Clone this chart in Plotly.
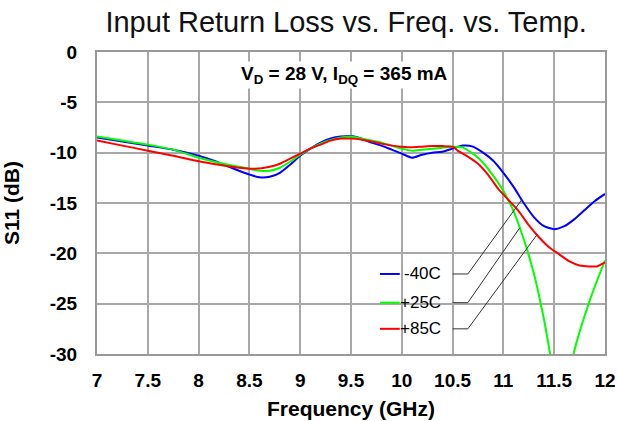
import numpy as np
import plotly.graph_objects as go

# ---- data ----
freq_m40 = [7.0, 7.25, 7.5, 7.75, 8.0, 8.15, 8.3, 8.45, 8.6, 8.7, 8.8, 8.9, 9.0, 9.1, 9.2, 9.3, 9.4, 9.5,
            9.6, 9.7, 9.8, 9.9, 10.0, 10.1, 10.2, 10.3, 10.4, 10.5, 10.6, 10.7, 10.8, 10.9, 11.0, 11.1,
            11.2, 11.3, 11.4, 11.5, 11.6, 11.7, 11.8, 11.9, 12.0]
s11_m40 = [-8.5, -8.9, -9.3, -9.7, -10.3, -10.8, -11.4, -12.0, -12.45, -12.4, -12.0, -11.2, -10.3, -9.6,
           -9.0, -8.6, -8.4, -8.35, -8.6, -9.0, -9.3, -9.7, -10.1, -10.5, -10.2, -10.0, -9.9, -9.6, -9.3,
           -9.4, -10.0, -10.8, -12.0, -13.4, -15.0, -16.4, -17.3, -17.6, -17.3, -16.6, -15.7, -14.8, -14.1]

freq_p25 = [7.0, 7.25, 7.5, 7.75, 8.0, 8.2, 8.4, 8.6, 8.7, 8.8, 8.9, 9.0, 9.1, 9.2, 9.3, 9.4, 9.5, 9.6,
            9.7, 9.8, 9.9, 10.0, 10.1, 10.2, 10.3, 10.4, 10.5, 10.6, 10.7, 10.8, 10.9, 11.0, 11.1, 11.2,
            11.3, 11.4, 11.46, 11.52, 11.58, 11.64, 11.69, 11.75, 11.8, 11.86, 11.93, 12.0]
s11_p25 = [-8.4, -8.8, -9.2, -9.7, -10.5, -11.0, -11.4, -11.8, -11.8, -11.5, -10.9, -10.2, -9.6, -9.1,
           -8.75, -8.5, -8.4, -8.6, -8.8, -9.0, -9.3, -9.6, -9.8, -9.7, -9.6, -9.5, -9.4, -9.5, -10.1,
           -11.0, -12.3, -13.8, -15.8, -18.6, -22.0, -26.6, -30.0, -33.5, -35.0, -33.5, -30.0, -27.8,
           -26.2, -24.4, -22.5, -20.7]

freq_p85 = [7.0, 7.25, 7.5, 7.75, 8.0, 8.2, 8.4, 8.55, 8.7, 8.8, 8.9, 9.0, 9.1, 9.2, 9.3, 9.4, 9.5, 9.6,
            9.7, 9.8, 9.9, 10.0, 10.1, 10.2, 10.3, 10.4, 10.5, 10.55, 10.65, 10.75, 10.85, 10.95, 11.05,
            11.15, 11.25, 11.35, 11.45, 11.55, 11.65, 11.75, 11.85, 11.92, 12.0]
s11_p85 = [-8.8, -9.3, -9.8, -10.3, -10.85, -11.2, -11.5, -11.6, -11.4, -11.1, -10.6, -10.1, -9.6, -9.2,
           -8.8, -8.6, -8.6, -8.7, -8.9, -9.1, -9.3, -9.4, -9.45, -9.4, -9.35, -9.35, -9.4, -9.8, -10.4,
           -11.1, -12.2, -13.6, -14.7, -15.8, -17.2, -18.4, -19.4, -20.1, -20.8, -21.2, -21.3, -21.3, -20.9]

series_names = ["-40C", "+25C", "+85C"]
series_colors = ["#0000FF", "#00FF00", "#FF0000"]
x_ticks = [7, 7.5, 8, 8.5, 9, 9.5, 10, 10.5, 11, 11.5, 12]
x_tick_labels = ["7", "7.5", "8", "8.5", "9", "9.5", "10", "10.5", "11", "11.5", "12"]
y_ticks = [0, -5, -10, -15, -20, -25, -30]
y_tick_labels = ["0", "-5", "-10", "-15", "-20", "-25", "-30"]

series = [(freq_m40, s11_m40), (freq_p25, s11_p25), (freq_p85, s11_p85)]

FONT = "Liberation Sans, Arial, sans-serif"

fig = go.Figure()
for (fx, fy), name, col in zip(series, series_names, series_colors):
    fig.add_trace(go.Scatter(x=fx, y=fy, mode="lines", name=name,
                             line=dict(color=col, width=2, shape="spline", smoothing=0.6),
                             showlegend=False))

# custom legend with leader lines
leg_y = [-22.05, -24.9, -27.5]
leader_x = [11.18, 11.16, 11.33]
for (fx, fy), name, col, ly, lx in zip(series, series_names, series_colors, leg_y, leader_x):
    fig.add_shape(type="line", x0=9.785, x1=9.98, y0=ly, y1=ly, line=dict(color=col, width=2))
    fig.add_annotation(x=10.405, y=ly, text=name, showarrow=False, xanchor="right", yanchor="middle",
                       font=dict(family=FONT, size=17, color="#000"))
    ey = float(np.interp(lx, fx, fy))
    fig.add_shape(type="line", x0=10.50, x1=10.65, y0=ly, y1=ly, line=dict(color="#333", width=1))
    fig.add_shape(type="line", x0=10.65, x1=lx, y0=ly, y1=ey, line=dict(color="#333", width=1))

fig.add_annotation(x=9.44, y=-2.3, text="<b>V<sub>D</sub> = 28 V, I<sub>DQ</sub> = 365 mA</b>",
                   showarrow=False, xanchor="center", yanchor="middle", bgcolor="white",
                   font=dict(family=FONT, size=19, color="#000"))

fig.update_layout(
    width=617, height=421,
    margin=dict(l=97, r=12, t=52, b=67, autoexpand=False),
    paper_bgcolor="white", plot_bgcolor="white",
    title=dict(text="Input Return Loss vs. Freq. vs. Temp.", x=0.561, xanchor="center",
               y=0.947, yanchor="middle",
               font=dict(family=FONT, size=29, color="#111")),
    xaxis=dict(range=[7, 12], tickvals=x_ticks, ticktext=x_tick_labels, automargin=False,
               showgrid=True, gridcolor="#a8a8a8", gridwidth=1.5,
               showline=True, linecolor="#999", linewidth=2, mirror=True,
               zeroline=False, ticks="", ticklabelstandoff=8,
               tickfont=dict(family=FONT, size=19, color="#000", weight="bold"),
               title=dict(text="<b>Frequency (GHz)</b>", standoff=12,
                          font=dict(family=FONT, size=21, color="#000"))),
    yaxis=dict(range=[-30, 0], tickvals=y_ticks, ticktext=y_tick_labels, automargin=False,
               showgrid=True, gridcolor="#a8a8a8", gridwidth=1.5,
               showline=True, linecolor="#999", linewidth=2, mirror=True,
               zeroline=False, ticks="", ticklabelstandoff=14,
               tickfont=dict(family=FONT, size=19, color="#000", weight="bold"),
               title=dict(text="<b>S11 (dB)</b>", standoff=28,
                          font=dict(family=FONT, size=21, color="#000"))),
)

# remove the default 8px page margin so the figure fills the window exactly
fig.write_html("out.html", config={"displayModeBar": False},
               post_script="document.body.style.margin='0';document.body.style.overflow='hidden';")
